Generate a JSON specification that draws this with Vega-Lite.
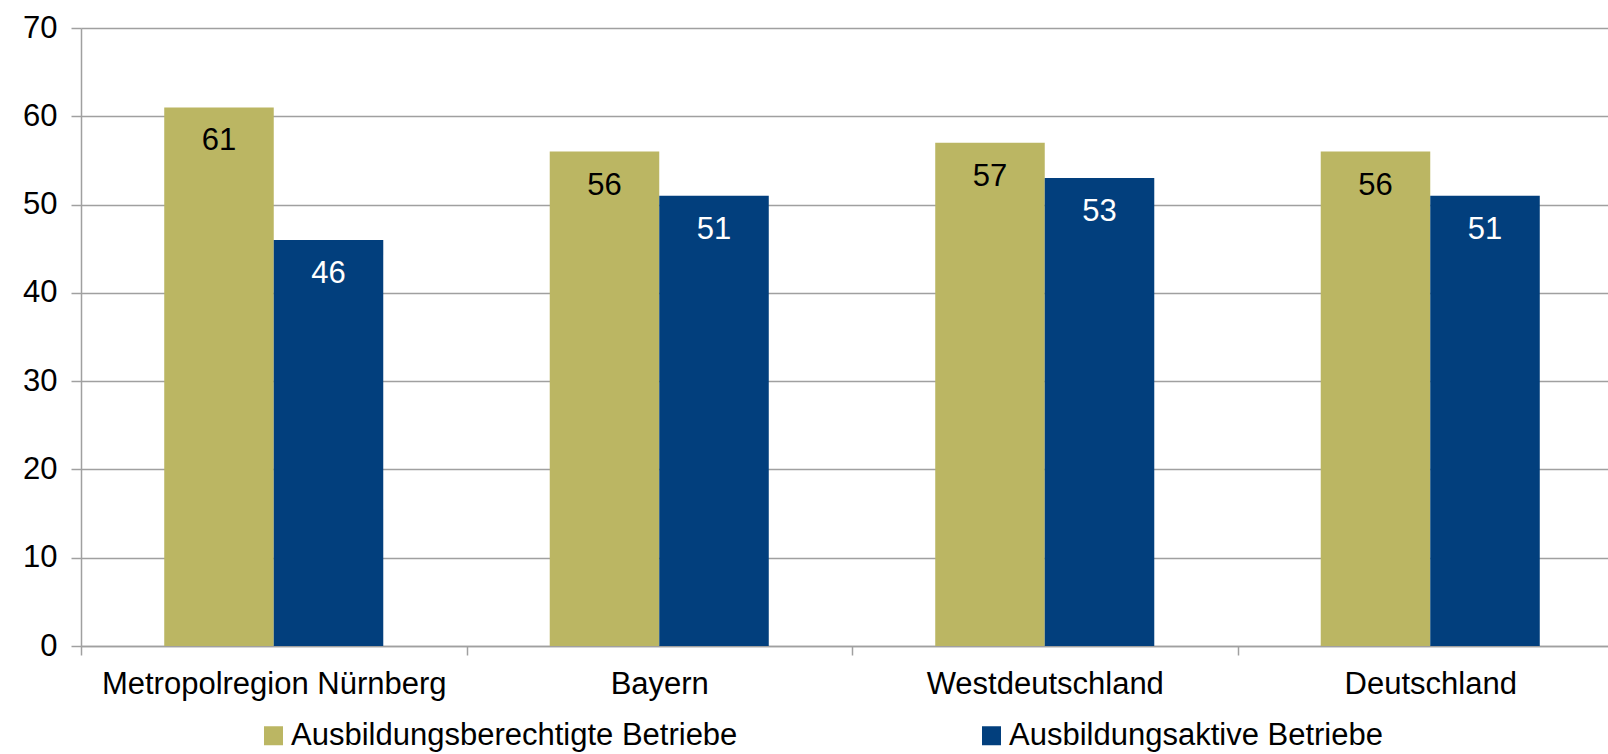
{
  "$schema": "https://vega.github.io/schema/vega-lite/v6.json",
  "autosize": "none",
  "width": 1542,
  "height": 618,
  "padding": {"left": 81, "top": 28, "right": -15, "bottom": 108},
  "background": "white",
  "config": {
    "view": {"stroke": null},
    "font": "Liberation Sans"
  },
  "data": {
    "values": [
      {"region": "Metropolregion Nürnberg", "series": "Ausbildungsberechtigte Betriebe", "value": 61},
      {"region": "Metropolregion Nürnberg", "series": "Ausbildungsaktive Betriebe", "value": 46},
      {"region": "Bayern", "series": "Ausbildungsberechtigte Betriebe", "value": 56},
      {"region": "Bayern", "series": "Ausbildungsaktive Betriebe", "value": 51},
      {"region": "Westdeutschland", "series": "Ausbildungsberechtigte Betriebe", "value": 57},
      {"region": "Westdeutschland", "series": "Ausbildungsaktive Betriebe", "value": 53},
      {"region": "Deutschland", "series": "Ausbildungsberechtigte Betriebe", "value": 56},
      {"region": "Deutschland", "series": "Ausbildungsaktive Betriebe", "value": 51}
    ]
  },
  "encoding": {
    "x": {
      "field": "region", "type": "nominal", "sort": null, "title": null,
      "scale": {"paddingInner": 0, "paddingOuter": 0},
      "axis": {
        "labelAngle": 0, "labelFontSize": 31, "labelColor": "#000000", "labelLimit": 0,
        "labelPadding": 14, "tickBand": "extent", "tickSize": 9,
        "tickColor": "#A0A0A0", "domainColor": "#A0A0A0", "domainWidth": 1.5, "tickWidth": 1.5,
        "grid": false
      }
    },
    "xOffset": {
      "field": "series", "type": "nominal",
      "sort": ["Ausbildungsberechtigte Betriebe", "Ausbildungsaktive Betriebe"],
      "scale": {"paddingInner": 0, "paddingOuter": 0.76}
    },
    "y": {
      "field": "value", "type": "quantitative", "title": null,
      "scale": {"domain": [0, 70], "nice": false},
      "axis": {
        "values": [0, 10, 20, 30, 40, 50, 60, 70],
        "labelFontSize": 31, "labelColor": "#000000", "labelPadding": 14,
        "tickSize": 10, "tickColor": "#A0A0A0", "tickWidth": 1.5,
        "domainColor": "#A0A0A0", "domainWidth": 1.5,
        "grid": true, "gridColor": "#A0A0A0", "gridWidth": 1.5
      }
    }
  },
  "layer": [
    {
      "mark": {"type": "bar"},
      "encoding": {
        "color": {
          "field": "series", "type": "nominal",
          "sort": ["Ausbildungsberechtigte Betriebe", "Ausbildungsaktive Betriebe"],
          "scale": {"domain": ["Ausbildungsberechtigte Betriebe", "Ausbildungsaktive Betriebe"], "range": ["#BBB663", "#023F7D"]},
          "legend": {
            "title": null, "orient": "none", "direction": "horizontal",
            "legendX": 177, "legendY": 692,
            "symbolType": "square", "symbolSize": 361, "symbolStrokeWidth": 0,
            "labelFontSize": 31, "labelColor": "#000000", "labelOffset": 2, "labelLimit": 0,
            "columnPadding": 238
          }
        }
      }
    },
    {
      "mark": {"type": "text", "baseline": "middle", "dy": 34, "fontSize": 31},
      "encoding": {
        "text": {"field": "value", "type": "quantitative"},
        "color": {
          "condition": {"test": "datum.series === 'Ausbildungsaktive Betriebe'", "value": "#FFFFFF"},
          "value": "#000000"
        }
      }
    }
  ]
}
